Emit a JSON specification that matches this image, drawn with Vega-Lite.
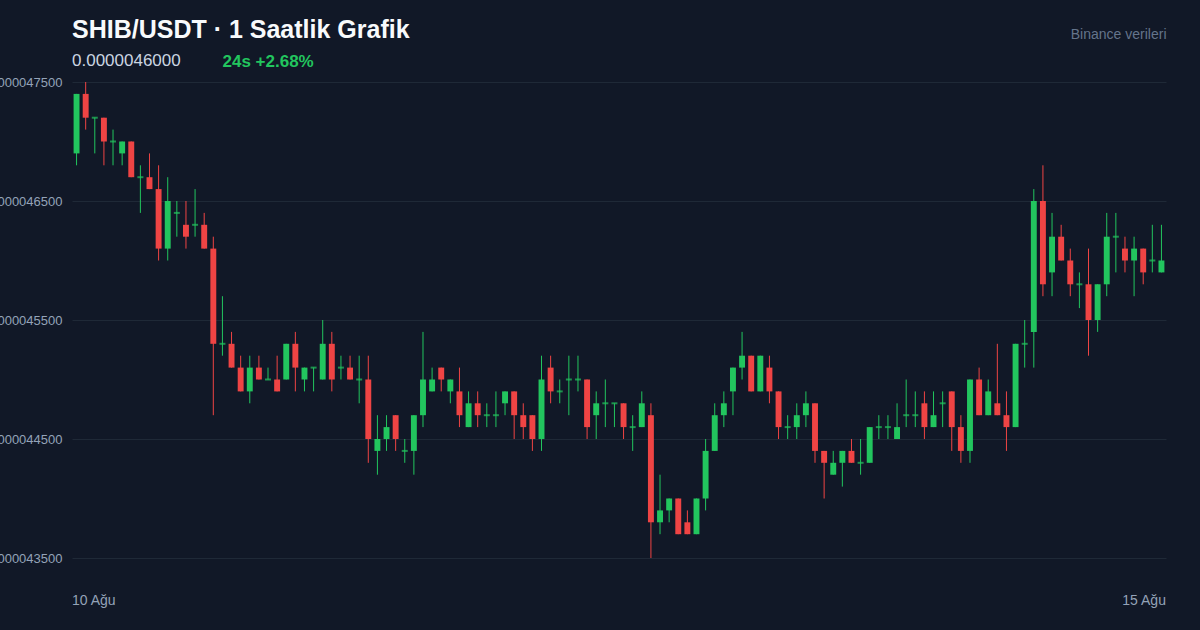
{
  "$schema": "https://vega.github.io/schema/vega-lite/v6.json",
  "autosize": {"type": "none"},
  "width": 1094,
  "height": 476,
  "padding": {"left": 72, "top": 82, "right": 34, "bottom": 72},
  "background": "#111827",
  "config": {"view": {"stroke": null}, "font": "Liberation Sans"},
  "title": {
    "text": "SHIB/USDT · 1 Saatlik Grafik",
    "subtitle": "0.0000046000",
    "anchor": "start",
    "frame": "group",
    "font": "Liberation Sans",
    "fontSize": 25,
    "fontWeight": "bold",
    "color": "#f8fafc",
    "subtitleFont": "Liberation Sans",
    "subtitleFontSize": 17,
    "subtitleColor": "#cbd5e1",
    "subtitlePadding": 10,
    "offset": -42
  },
  "data": {
    "values": [
      {"i":0,"o":0.00000469,"h":0.00000474,"l":0.00000468,"c":0.00000474},
      {"i":1,"o":0.00000474,"h":0.00000475,"l":0.00000471,"c":0.00000472},
      {"i":2,"o":0.00000472,"h":0.00000472,"l":0.00000469,"c":0.00000472},
      {"i":3,"o":0.00000472,"h":0.00000472,"l":0.00000468,"c":0.00000470},
      {"i":4,"o":0.00000470,"h":0.00000471,"l":0.00000468,"c":0.00000470},
      {"i":5,"o":0.00000469,"h":0.00000470,"l":0.00000468,"c":0.00000470},
      {"i":6,"o":0.00000470,"h":0.00000470,"l":0.00000467,"c":0.00000467},
      {"i":7,"o":0.00000467,"h":0.00000468,"l":0.00000464,"c":0.00000467},
      {"i":8,"o":0.00000467,"h":0.00000469,"l":0.00000466,"c":0.00000466},
      {"i":9,"o":0.00000466,"h":0.00000468,"l":0.00000460,"c":0.00000461},
      {"i":10,"o":0.00000461,"h":0.00000467,"l":0.00000460,"c":0.00000465},
      {"i":11,"o":0.00000464,"h":0.00000465,"l":0.00000462,"c":0.00000464},
      {"i":12,"o":0.00000463,"h":0.00000465,"l":0.00000461,"c":0.00000462},
      {"i":13,"o":0.00000463,"h":0.00000466,"l":0.00000462,"c":0.00000463},
      {"i":14,"o":0.00000463,"h":0.00000464,"l":0.00000461,"c":0.00000461},
      {"i":15,"o":0.00000461,"h":0.00000462,"l":0.00000447,"c":0.00000453},
      {"i":16,"o":0.00000453,"h":0.00000457,"l":0.00000452,"c":0.00000453},
      {"i":17,"o":0.00000453,"h":0.00000454,"l":0.00000451,"c":0.00000451},
      {"i":18,"o":0.00000451,"h":0.00000452,"l":0.00000449,"c":0.00000449},
      {"i":19,"o":0.00000449,"h":0.00000452,"l":0.00000448,"c":0.00000451},
      {"i":20,"o":0.00000451,"h":0.00000452,"l":0.00000450,"c":0.00000450},
      {"i":21,"o":0.00000450,"h":0.00000451,"l":0.00000450,"c":0.00000450},
      {"i":22,"o":0.00000450,"h":0.00000452,"l":0.00000449,"c":0.00000449},
      {"i":23,"o":0.00000450,"h":0.00000453,"l":0.00000450,"c":0.00000453},
      {"i":24,"o":0.00000453,"h":0.00000454,"l":0.00000449,"c":0.00000451},
      {"i":25,"o":0.00000450,"h":0.00000451,"l":0.00000449,"c":0.00000451},
      {"i":26,"o":0.00000451,"h":0.00000451,"l":0.00000449,"c":0.00000451},
      {"i":27,"o":0.00000450,"h":0.00000455,"l":0.00000450,"c":0.00000453},
      {"i":28,"o":0.00000453,"h":0.00000454,"l":0.00000449,"c":0.00000450},
      {"i":29,"o":0.00000451,"h":0.00000452,"l":0.00000450,"c":0.00000451},
      {"i":30,"o":0.00000451,"h":0.00000452,"l":0.00000450,"c":0.00000450},
      {"i":31,"o":0.00000450,"h":0.00000452,"l":0.00000448,"c":0.00000450},
      {"i":32,"o":0.00000450,"h":0.00000452,"l":0.00000443,"c":0.00000445},
      {"i":33,"o":0.00000444,"h":0.00000447,"l":0.00000442,"c":0.00000445},
      {"i":34,"o":0.00000445,"h":0.00000447,"l":0.00000444,"c":0.00000446},
      {"i":35,"o":0.00000447,"h":0.00000447,"l":0.00000444,"c":0.00000445},
      {"i":36,"o":0.00000444,"h":0.00000445,"l":0.00000443,"c":0.00000444},
      {"i":37,"o":0.00000444,"h":0.00000447,"l":0.00000442,"c":0.00000447},
      {"i":38,"o":0.00000447,"h":0.00000454,"l":0.00000446,"c":0.00000450},
      {"i":39,"o":0.00000449,"h":0.00000451,"l":0.00000449,"c":0.00000450},
      {"i":40,"o":0.00000451,"h":0.00000451,"l":0.00000449,"c":0.00000450},
      {"i":41,"o":0.00000449,"h":0.00000450,"l":0.00000448,"c":0.00000450},
      {"i":42,"o":0.00000449,"h":0.00000451,"l":0.00000446,"c":0.00000447},
      {"i":43,"o":0.00000446,"h":0.00000449,"l":0.00000446,"c":0.00000448},
      {"i":44,"o":0.00000448,"h":0.00000449,"l":0.00000446,"c":0.00000447},
      {"i":45,"o":0.00000447,"h":0.00000448,"l":0.00000446,"c":0.00000447},
      {"i":46,"o":0.00000447,"h":0.00000449,"l":0.00000446,"c":0.00000447},
      {"i":47,"o":0.00000448,"h":0.00000449,"l":0.00000447,"c":0.00000449},
      {"i":48,"o":0.00000449,"h":0.00000449,"l":0.00000445,"c":0.00000447},
      {"i":49,"o":0.00000447,"h":0.00000448,"l":0.00000445,"c":0.00000446},
      {"i":50,"o":0.00000447,"h":0.00000447,"l":0.00000444,"c":0.00000445},
      {"i":51,"o":0.00000445,"h":0.00000452,"l":0.00000444,"c":0.00000450},
      {"i":52,"o":0.00000451,"h":0.00000452,"l":0.00000448,"c":0.00000449},
      {"i":53,"o":0.00000449,"h":0.00000450,"l":0.00000448,"c":0.00000449},
      {"i":54,"o":0.00000450,"h":0.00000452,"l":0.00000447,"c":0.00000450},
      {"i":55,"o":0.00000450,"h":0.00000452,"l":0.00000449,"c":0.00000450},
      {"i":56,"o":0.00000450,"h":0.00000450,"l":0.00000445,"c":0.00000446},
      {"i":57,"o":0.00000447,"h":0.00000449,"l":0.00000445,"c":0.00000448},
      {"i":58,"o":0.00000448,"h":0.00000450,"l":0.00000446,"c":0.00000448},
      {"i":59,"o":0.00000448,"h":0.00000448,"l":0.00000446,"c":0.00000448},
      {"i":60,"o":0.00000448,"h":0.00000448,"l":0.00000445,"c":0.00000446},
      {"i":61,"o":0.00000446,"h":0.00000447,"l":0.00000444,"c":0.00000446},
      {"i":62,"o":0.00000446,"h":0.00000449,"l":0.00000446,"c":0.00000448},
      {"i":63,"o":0.00000447,"h":0.00000448,"l":0.00000435,"c":0.00000438},
      {"i":64,"o":0.00000438,"h":0.00000442,"l":0.00000437,"c":0.00000439},
      {"i":65,"o":0.00000439,"h":0.00000440,"l":0.00000438,"c":0.00000440},
      {"i":66,"o":0.00000440,"h":0.00000440,"l":0.00000437,"c":0.00000437},
      {"i":67,"o":0.00000438,"h":0.00000439,"l":0.00000437,"c":0.00000437},
      {"i":68,"o":0.00000437,"h":0.00000440,"l":0.00000437,"c":0.00000440},
      {"i":69,"o":0.00000440,"h":0.00000445,"l":0.00000439,"c":0.00000444},
      {"i":70,"o":0.00000444,"h":0.00000448,"l":0.00000444,"c":0.00000447},
      {"i":71,"o":0.00000447,"h":0.00000449,"l":0.00000446,"c":0.00000448},
      {"i":72,"o":0.00000449,"h":0.00000451,"l":0.00000447,"c":0.00000451},
      {"i":73,"o":0.00000451,"h":0.00000454,"l":0.00000450,"c":0.00000452},
      {"i":74,"o":0.00000452,"h":0.00000452,"l":0.00000449,"c":0.00000449},
      {"i":75,"o":0.00000449,"h":0.00000452,"l":0.00000449,"c":0.00000452},
      {"i":76,"o":0.00000451,"h":0.00000452,"l":0.00000448,"c":0.00000449},
      {"i":77,"o":0.00000449,"h":0.00000449,"l":0.00000445,"c":0.00000446},
      {"i":78,"o":0.00000446,"h":0.00000447,"l":0.00000445,"c":0.00000446},
      {"i":79,"o":0.00000446,"h":0.00000448,"l":0.00000445,"c":0.00000447},
      {"i":80,"o":0.00000447,"h":0.00000449,"l":0.00000446,"c":0.00000448},
      {"i":81,"o":0.00000448,"h":0.00000448,"l":0.00000443,"c":0.00000444},
      {"i":82,"o":0.00000444,"h":0.00000444,"l":0.00000440,"c":0.00000443},
      {"i":83,"o":0.00000442,"h":0.00000444,"l":0.00000442,"c":0.00000443},
      {"i":84,"o":0.00000443,"h":0.00000444,"l":0.00000441,"c":0.00000444},
      {"i":85,"o":0.00000444,"h":0.00000445,"l":0.00000443,"c":0.00000443},
      {"i":86,"o":0.00000443,"h":0.00000445,"l":0.00000442,"c":0.00000443},
      {"i":87,"o":0.00000443,"h":0.00000446,"l":0.00000443,"c":0.00000446},
      {"i":88,"o":0.00000446,"h":0.00000447,"l":0.00000445,"c":0.00000446},
      {"i":89,"o":0.00000446,"h":0.00000447,"l":0.00000445,"c":0.00000446},
      {"i":90,"o":0.00000445,"h":0.00000448,"l":0.00000445,"c":0.00000446},
      {"i":91,"o":0.00000447,"h":0.00000450,"l":0.00000446,"c":0.00000447},
      {"i":92,"o":0.00000447,"h":0.00000449,"l":0.00000446,"c":0.00000447},
      {"i":93,"o":0.00000448,"h":0.00000449,"l":0.00000445,"c":0.00000446},
      {"i":94,"o":0.00000446,"h":0.00000449,"l":0.00000446,"c":0.00000447},
      {"i":95,"o":0.00000448,"h":0.00000449,"l":0.00000446,"c":0.00000448},
      {"i":96,"o":0.00000449,"h":0.00000449,"l":0.00000444,"c":0.00000446},
      {"i":97,"o":0.00000446,"h":0.00000447,"l":0.00000443,"c":0.00000444},
      {"i":98,"o":0.00000444,"h":0.00000450,"l":0.00000443,"c":0.00000450},
      {"i":99,"o":0.00000450,"h":0.00000451,"l":0.00000447,"c":0.00000447},
      {"i":100,"o":0.00000447,"h":0.00000450,"l":0.00000447,"c":0.00000449},
      {"i":101,"o":0.00000448,"h":0.00000453,"l":0.00000447,"c":0.00000447},
      {"i":102,"o":0.00000447,"h":0.00000449,"l":0.00000444,"c":0.00000446},
      {"i":103,"o":0.00000446,"h":0.00000453,"l":0.00000446,"c":0.00000453},
      {"i":104,"o":0.00000453,"h":0.00000455,"l":0.00000451,"c":0.00000453},
      {"i":105,"o":0.00000454,"h":0.00000466,"l":0.00000451,"c":0.00000465},
      {"i":106,"o":0.00000465,"h":0.00000468,"l":0.00000457,"c":0.00000458},
      {"i":107,"o":0.00000459,"h":0.00000464,"l":0.00000457,"c":0.00000462},
      {"i":108,"o":0.00000462,"h":0.00000463,"l":0.00000460,"c":0.00000460},
      {"i":109,"o":0.00000460,"h":0.00000461,"l":0.00000457,"c":0.00000458},
      {"i":110,"o":0.00000458,"h":0.00000459,"l":0.00000456,"c":0.00000458},
      {"i":111,"o":0.00000458,"h":0.00000461,"l":0.00000452,"c":0.00000455},
      {"i":112,"o":0.00000455,"h":0.00000458,"l":0.00000454,"c":0.00000458},
      {"i":113,"o":0.00000458,"h":0.00000464,"l":0.00000457,"c":0.00000462},
      {"i":114,"o":0.00000462,"h":0.00000464,"l":0.00000459,"c":0.00000462},
      {"i":115,"o":0.00000461,"h":0.00000462,"l":0.00000459,"c":0.00000460},
      {"i":116,"o":0.00000460,"h":0.00000462,"l":0.00000457,"c":0.00000461},
      {"i":117,"o":0.00000461,"h":0.00000461,"l":0.00000458,"c":0.00000459},
      {"i":118,"o":0.00000460,"h":0.00000463,"l":0.00000459,"c":0.00000460},
      {"i":119,"o":0.00000459,"h":0.00000463,"l":0.00000459,"c":0.00000460}
    ]
  },
  "encoding": {
    "x": {
      "field": "i",
      "type": "ordinal",
      "scale": {"paddingInner": 0.35},
      "axis": {
        "values": [0, 119],
        "labelExpr": "datum.value == 0 ? '10 Ağu' : '15 Ağu'",
        "labelAngle": 0,
        "labelAlign": {"condition": {"test": "datum.value == 0", "value": "left"}, "value": "right"},
        "labelOffset": {"condition": {"test": "datum.value == 0", "value": -4.5}, "value": 4.5},
        "labelPadding": 35,
        "labelColor": "#94a3b8",
        "labelFontSize": 14,
        "labelFont": "Liberation Sans",
        "ticks": false,
        "tickSize": 0,
        "domain": false,
        "grid": false,
        "title": "Binance verileri",
        "titleX": 1094,
        "titleY": -520,
        "titleAlign": "right",
        "titleBaseline": "alphabetic",
        "titleAngle": 0,
        "titleColor": "#64748b",
        "titleFontSize": 14,
        "titleFontWeight": "normal",
        "titleFont": "Liberation Sans"
      }
    },
    "color": {"condition": {"test": "datum.c >= datum.o", "value": "#22c55e"}, "value": "#ef4444"}
  },
  "layer": [
    {
      "mark": {"type": "rule", "strokeWidth": 1},
      "encoding": {
        "y": {
          "field": "l",
          "type": "quantitative",
          "scale": {"domain": [0.00000435, 0.00000475], "nice": false, "zero": false},
          "axis": {
            "values": [0.00000435, 0.00000445, 0.00000455, 0.00000465, 0.00000475],
            "format": ".10f",
            "labelColor": "#94a3b8",
            "labelFontSize": 13,
            "labelFont": "Liberation Sans",
            "labelPadding": 10,
            "ticks": false,
            "tickSize": 0,
            "domain": false,
            "grid": true,
            "gridColor": "#1f2937",
            "gridWidth": 1,
            "title": "24s +2.68%",
            "titleAngle": 0,
            "titleAlign": "left",
            "titleBaseline": "alphabetic",
            "titleX": 150,
            "titleY": -16,
            "titleColor": "#22c55e",
            "titleFontSize": 17,
            "titleFontWeight": "bold",
            "titleFont": "Liberation Sans"
          }
        },
        "y2": {"field": "h"}
      }
    },
    {
      "mark": {"type": "bar"},
      "encoding": {
        "y": {"field": "o", "type": "quantitative", "title": "24s +2.68%"},
        "y2": {"field": "c"}
      }
    },
    {
      "transform": [{"filter": "datum.o == datum.c"}],
      "mark": {"type": "tick", "thickness": 2, "size": 6},
      "encoding": {
        "y": {"field": "c", "type": "quantitative", "title": "24s +2.68%"}
      }
    }
  ]
}
